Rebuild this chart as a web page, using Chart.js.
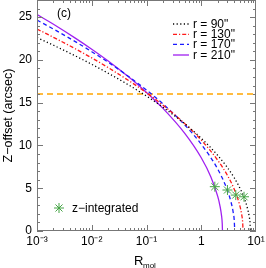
<!DOCTYPE html>
<html>
<head>
<meta charset="utf-8">
<script src="https://cdn.jsdelivr.net/npm/chart.js@4"></script>
<style>
  html, body { margin: 0; padding: 0; background: #fff; }
  #wrap { width: 266px; height: 268px; }
</style>
</head>
<body>
<div id="wrap"><canvas id="chart"></canvas></div>
<script>
// values (R_mol vs Z-offset)
const seriesNames = ['r = 90"', 'r = 130"', 'r = 170"', 'r = 210"'];

const r90R = [0.001, 0.002, 0.005, 0.01, 0.02, 0.05, 0.1, 0.2, 0.5, 1, 2, 3, 4, 5, 6, 7, 7.5, 7.8, 7.9];
const r90Z = [22.60, 21.71, 20.47, 19.48, 18.44, 16.97, 15.77, 14.46, 12.53, 10.84, 8.84, 7.42, 6.22, 5.10, 3.96, 2.62, 1.72, 0.85, 0];

const r130R = [0.001, 0.002, 0.005, 0.01, 0.02, 0.05, 0.1, 0.2, 0.5, 1, 2, 3, 4, 5, 5.5, 5.7, 5.8];
const r130Z = [23.61, 22.64, 21.30, 20.23, 19.09, 17.48, 16.16, 14.71, 12.55, 10.63, 8.27, 6.51, 4.89, 3.09, 1.85, 1.06, 0];

const r170R = [0.001, 0.002, 0.005, 0.01, 0.02, 0.05, 0.1, 0.2, 0.5, 1, 2, 3, 3.5, 3.8, 4.0, 4.09];
const r170Z = [24.65, 23.60, 22.14, 20.96, 19.72, 17.94, 16.47, 14.85, 12.39, 10.14, 7.23, 4.76, 3.37, 2.32, 1.28, 0];

const r210R = [0.001, 0.002, 0.005, 0.01, 0.02, 0.05, 0.1, 0.2, 0.5, 1, 1.5, 2, 2.2, 2.35, 2.42, 2.44];
const r210Z = [25.31, 24.16, 22.54, 21.24, 19.86, 17.87, 16.20, 14.33, 11.41, 8.56, 6.32, 4.04, 2.92, 1.76, 0.82, 0];

// z-integrated points
const intR = [1.77, 3.01, 4.27, 6.04];
const intZ = [5.18, 4.79, 4.20, 4.00];

// horizontal reference level
const refZ = 16;
const refR = [0.001, 10];

const xTickValues = [0.001, 0.01, 0.1, 1, 10];
const xTickLabels = ['10\u207B\u00B3', '10\u207B\u00B2', '10\u207B\u00B9', '1', '10\u00B9'];
const yTickValues = [0, 5, 10, 15, 20, 25];

const colors = ['#000000', '#ff1a1a', '#1a1aff', '#a020f0'];
const dashes = [[1.2, 2.4], [4, 2, 1.2, 2], [4, 3], []];
const FONT = '"Liberation Sans", Arial, Helvetica, sans-serif';
const STAR_COLOR = '#46a546';

function pts(xs, ys) {
  return xs.map((x, i) => ({ x: x, y: ys[i] }));
}

const curveSets = [[r90R, r90Z], [r130R, r130Z], [r170R, r170Z], [r210R, r210Z]];

const datasets = [
  {
    label: 'z-integrated',
    data: pts(intR, intZ),
    showLine: false,
    pointStyle: 'star',
    pointRadius: 5,
    pointBorderWidth: 1,
    pointBorderColor: STAR_COLOR,
    pointBackgroundColor: STAR_COLOR
  }
];
curveSets.forEach((s, i) => {
  datasets.push({
    label: seriesNames[i],
    data: pts(s[0], s[1]),
    borderColor: colors[i],
    borderWidth: 1.3,
    borderDash: dashes[i],
    pointRadius: 0,
    fill: false,
    cubicInterpolationMode: 'monotone'
  });
});
datasets.push({
  label: 'ref',
  data: refR.map(x => ({ x: x, y: refZ })),
  borderColor: '#ffa500',
  borderWidth: 1.5,
  borderDash: [6, 4],
  pointRadius: 0
});

function drawStar(ctx, x, y, r) {
  const d = r * Math.SQRT1_2;
  ctx.beginPath();
  ctx.moveTo(x - r, y); ctx.lineTo(x + r, y);
  ctx.moveTo(x, y - r); ctx.lineTo(x, y + r);
  ctx.moveTo(x - d, y - d); ctx.lineTo(x + d, y + d);
  ctx.moveTo(x - d, y + d); ctx.lineTo(x + d, y - d);
  ctx.stroke();
}

// no extra room above/below the plot for the y labels
function trimY(s) {
  s.width = 37;
  s.paddingTop = 0;
  s.paddingBottom = 0;
  if (s._margins) { s._margins.top = 0; s._margins.bottom = 0; }
}

// box, inward ticks, x title and in-plot legend
const framePlugin = {
  id: 'frame',
  afterDatasetsDraw(chart) {
    const ctx = chart.ctx;
    const a = chart.chartArea;
    const xs = chart.scales.x;
    const ys = chart.scales.y;
    ctx.save();
    ctx.strokeStyle = '#777';
    ctx.lineWidth = 1;
    ctx.setLineDash([]);
    ctx.strokeRect(a.left + 0.5, a.top + 0.5, a.right - a.left - 1, a.bottom - a.top - 1);

    ctx.beginPath();
    for (let v = 0; v <= 27; v++) {
      const y = Math.round(ys.getPixelForValue(v)) + 0.5;
      const len = v % 5 === 0 ? 6 : 3;
      ctx.moveTo(a.left, y); ctx.lineTo(a.left + len, y);
      ctx.moveTo(a.right, y); ctx.lineTo(a.right - len, y);
    }
    for (let e = -3; e <= 0; e++) {
      for (let m = 1; m <= 9; m++) {
        const x = Math.round(xs.getPixelForValue(m * Math.pow(10, e))) + 0.5;
        const len = m === 1 ? 6 : 3;
        ctx.moveTo(x, a.bottom); ctx.lineTo(x, a.bottom - len);
        ctx.moveTo(x, a.top); ctx.lineTo(x, a.top + len);
      }
    }
    ctx.stroke();

    ctx.fillStyle = '#000';
    ctx.textAlign = 'left';
    ctx.textBaseline = 'alphabetic';
    ctx.font = '13px ' + FONT;
    ctx.fillText('R', 134, 265);
    ctx.font = '8px ' + FONT;
    ctx.fillText('mol', 143, 268);

    ctx.font = '12px ' + FONT;
    ctx.textBaseline = 'middle';
    ctx.fillText('(c)', 57, 14);

    // legend
    const rowsY = [24, 34.3, 44.3, 55];
    seriesNames.forEach((name, i) => {
      ctx.strokeStyle = colors[i];
      ctx.lineWidth = 1.3;
      ctx.setLineDash(dashes[i]);
      ctx.beginPath();
      ctx.moveTo(173, rowsY[i]);
      ctx.lineTo(189, rowsY[i]);
      ctx.stroke();
      ctx.setLineDash([]);
      ctx.fillStyle = '#000';
      ctx.fillText(name, 193, rowsY[i] + 0.5);
    });

    ctx.strokeStyle = STAR_COLOR;
    ctx.lineWidth = 1;
    drawStar(ctx, 59, 208, 5);
    ctx.fillStyle = '#000';
    ctx.fillText('z\u2212integrated', 72, 208.5);
    ctx.restore();
  }
};

new Chart(document.getElementById('chart'), {
  type: 'line',
  data: { datasets: datasets },
  options: {
    responsive: true,
    maintainAspectRatio: false,
    animation: false,
    devicePixelRatio: 1,
    layout: { autoPadding: false, padding: { top: 0, right: 10, left: 0, bottom: 0 } },
    plugins: {
      legend: { display: false },
      tooltip: { enabled: false }
    },
    scales: {
      x: {
        type: 'logarithmic',
        min: 0.001,
        max: 10,
        grid: { display: false, drawTicks: false },
        border: { display: false },
        afterFit: s => {
          s.height = 37; s.paddingLeft = 0; s.paddingRight = 0;
          if (s._margins) { s._margins.left = 0; s._margins.right = 0; }
        },
        afterBuildTicks: s => { s.ticks = xTickValues.map(v => ({ value: v })); },
        ticks: {
          padding: 3,
          maxRotation: 0,
          autoSkip: false,
          color: '#000',
          font: { family: FONT, size: 12 },
          callback: v => {
            const i = xTickValues.findIndex(t => Math.abs(Math.log10(t) - Math.log10(v)) < 1e-6);
            return i >= 0 ? xTickLabels[i] : '';
          }
        }
      },
      y: {
        min: 0,
        max: 27,
        grid: { display: false, drawTicks: false },
        border: { display: false },
        title: {
          display: true,
          text: 'Z\u2212offset (arcsec)',
          color: '#000',
          font: { family: FONT, size: 12.5 },
          padding: { top: 1, bottom: 0 }
        },
        afterFit: trimY,
        afterBuildTicks: s => { s.ticks = yTickValues.map(v => ({ value: v })); },
        ticks: {
          padding: 5,
          color: '#000',
          font: { family: FONT, size: 12 }
        }
      }
    }
  },
  plugins: [framePlugin]
});
</script>
</body>
</html>
